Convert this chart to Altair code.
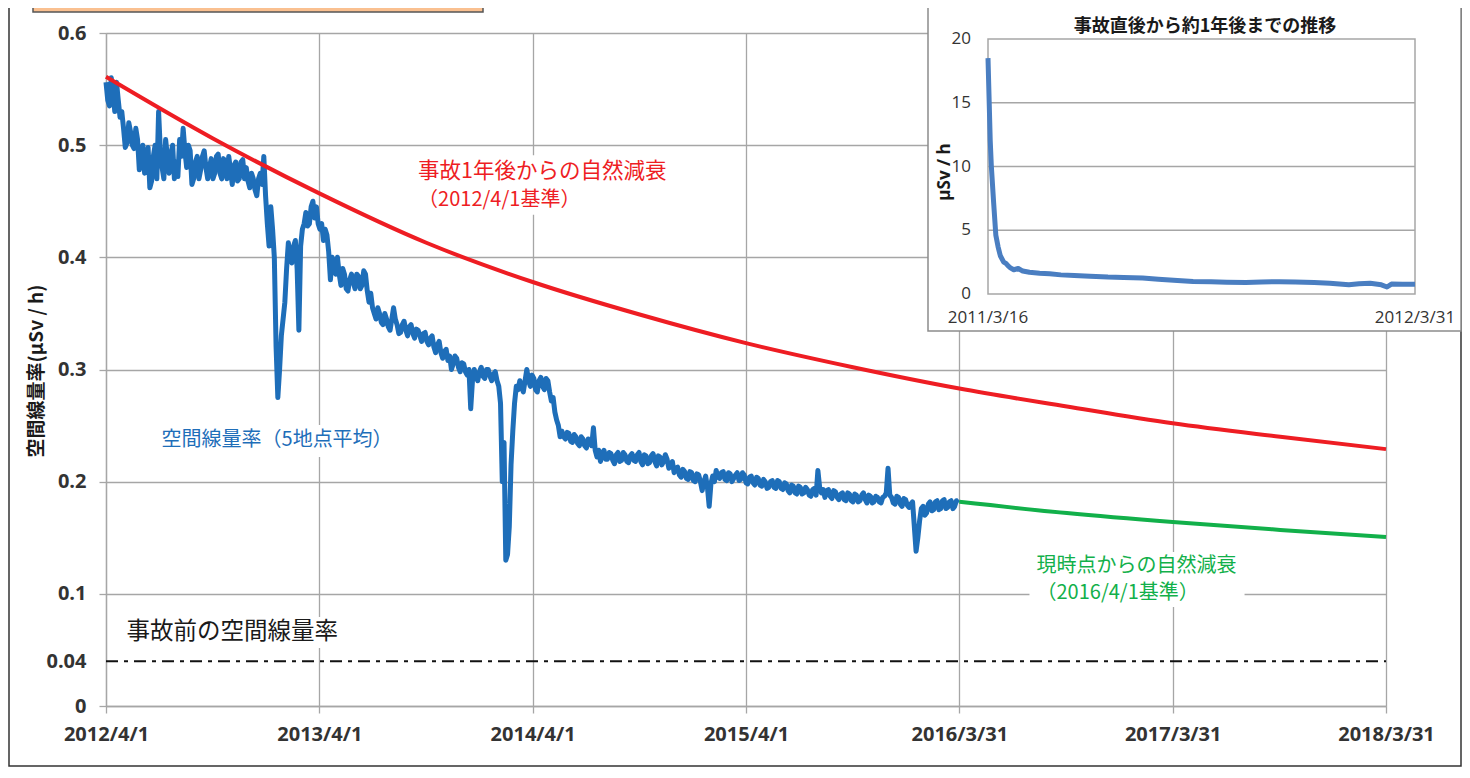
import altair as alt
import pandas as pd

# ---------------- data ----------------
# 5-point average dose rate, read every 6 days from 2012/4/1 ...
blue_start = "2012-04-01"
blue_step_days = 6
blue_values = [
    0.556, 0.535, 0.548, 0.556, 0.525, 0.515, 0.502, 0.512, 0.497, 0.505,
    0.490, 0.475, 0.498, 0.468, 0.500, 0.530, 0.480, 0.505, 0.475, 0.500,
    0.485, 0.505, 0.515, 0.480, 0.495, 0.470, 0.490, 0.478, 0.495, 0.470,
    0.488, 0.475, 0.492, 0.470, 0.485, 0.490, 0.465, 0.485, 0.470, 0.487,
    0.480, 0.462, 0.470, 0.455, 0.475, 0.490, 0.430, 0.445, 0.400, 0.275,
    0.330, 0.360, 0.413, 0.395, 0.415, 0.335, 0.425, 0.440, 0.430, 0.450,
    0.445, 0.425, 0.415, 0.420, 0.380, 0.395, 0.400, 0.375, 0.385, 0.370,
    0.385, 0.372, 0.383, 0.375, 0.385, 0.360, 0.355, 0.345, 0.350, 0.340,
    0.345, 0.335, 0.355, 0.340, 0.333, 0.343, 0.330, 0.340, 0.328, 0.335,
    0.325, 0.333, 0.322, 0.330, 0.315, 0.325, 0.310, 0.318, 0.312, 0.305,
    0.310, 0.298, 0.305, 0.295, 0.265, 0.300, 0.290, 0.302, 0.292, 0.300,
    0.290, 0.298, 0.285, 0.200, 0.130, 0.160, 0.245, 0.285, 0.290, 0.280,
    0.300, 0.285, 0.292, 0.280, 0.293, 0.282, 0.290, 0.272, 0.262, 0.250,
    0.245, 0.238, 0.243, 0.235, 0.240, 0.232, 0.238, 0.230, 0.236, 0.248,
    0.222, 0.218, 0.228, 0.220, 0.225, 0.216, 0.226, 0.219, 0.224, 0.217,
    0.225, 0.218, 0.226, 0.215, 0.223, 0.217, 0.225, 0.214, 0.222, 0.218,
    0.220, 0.214, 0.208, 0.213, 0.204, 0.209, 0.202, 0.208, 0.200, 0.206,
    0.192, 0.205, 0.178, 0.205, 0.210, 0.203, 0.209, 0.201, 0.207, 0.203,
    0.208, 0.202, 0.206, 0.198, 0.205, 0.197, 0.203, 0.196, 0.200, 0.195,
    0.201, 0.194, 0.200, 0.193, 0.198, 0.190, 0.196, 0.189, 0.195, 0.190,
    0.193, 0.187, 0.194, 0.210, 0.190, 0.186, 0.193, 0.185, 0.191, 0.184,
    0.190, 0.183, 0.189, 0.182, 0.188, 0.183, 0.190, 0.181, 0.187, 0.182,
    0.186, 0.181, 0.187, 0.212, 0.186, 0.180, 0.186, 0.178, 0.184, 0.177,
    0.182, 0.138, 0.165, 0.178, 0.172, 0.182, 0.175, 0.183, 0.176, 0.184,
    0.177, 0.183, 0.178, 0.181,
]
# ... and the readings 3 days after each of those (the day-to-day scatter)
blue_mid_values = [
    0.540, 0.560, 0.530, 0.540, 0.530, 0.498, 0.520, 0.500, 0.515, 0.478,
    0.500, 0.488, 0.462, 0.490, 0.470, 0.495, 0.470, 0.490, 0.492, 0.470,
    0.472, 0.490, 0.495, 0.500, 0.465, 0.485, 0.470, 0.490, 0.480, 0.480,
    0.470, 0.490, 0.475, 0.488, 0.470, 0.478, 0.482, 0.468, 0.485, 0.470,
    0.468, 0.475, 0.460, 0.470, 0.465, 0.455, 0.410, 0.425, 0.320, 0.300,
    0.345, 0.390, 0.400, 0.410, 0.390, 0.410, 0.430, 0.428, 0.445, 0.435,
    0.430, 0.430, 0.425, 0.405, 0.400, 0.385, 0.385, 0.390, 0.372, 0.380,
    0.378, 0.385, 0.372, 0.388, 0.370, 0.368, 0.350, 0.355, 0.342, 0.350,
    0.338, 0.345, 0.345, 0.332, 0.340, 0.335, 0.338, 0.332, 0.336, 0.330,
    0.332, 0.325, 0.328, 0.320, 0.322, 0.315, 0.316, 0.308, 0.300, 0.312,
    0.302, 0.306, 0.298, 0.300, 0.290, 0.294, 0.298, 0.294, 0.300, 0.294,
    0.296, 0.290, 0.270, 0.235, 0.135, 0.215, 0.270, 0.282, 0.284, 0.290,
    0.290, 0.295, 0.282, 0.290, 0.285, 0.292, 0.280, 0.275, 0.255, 0.240,
    0.240, 0.244, 0.236, 0.242, 0.234, 0.240, 0.232, 0.238, 0.232, 0.228,
    0.228, 0.224, 0.220, 0.226, 0.219, 0.224, 0.218, 0.226, 0.218, 0.223,
    0.219, 0.224, 0.218, 0.224, 0.216, 0.223, 0.218, 0.223, 0.215, 0.224,
    0.212, 0.218, 0.212, 0.206, 0.211, 0.203, 0.209, 0.201, 0.207, 0.200,
    0.200, 0.195, 0.198, 0.200, 0.204, 0.208, 0.202, 0.208, 0.200, 0.206,
    0.201, 0.208, 0.199, 0.204, 0.199, 0.204, 0.197, 0.202, 0.194, 0.200,
    0.195, 0.201, 0.194, 0.199, 0.192, 0.197, 0.190, 0.196, 0.189, 0.195,
    0.188, 0.193, 0.188, 0.195, 0.193, 0.192, 0.187, 0.192, 0.186, 0.189,
    0.184, 0.190, 0.183, 0.189, 0.182, 0.188, 0.184, 0.188, 0.181, 0.187,
    0.182, 0.186, 0.190, 0.188, 0.181, 0.187, 0.180, 0.185, 0.179, 0.180,
    0.160, 0.150, 0.176, 0.170, 0.180, 0.174, 0.182, 0.175, 0.183, 0.176,
    0.182, 0.176, 0.183,
]

# natural decay from 2012/4/1
red_dates = ["2012-04-01", "2012-10-01", "2013-04-01", "2013-10-01", "2014-04-01",
             "2014-10-01", "2015-04-01", "2015-10-01", "2016-03-31", "2016-10-01",
             "2017-03-31", "2017-10-01", "2018-03-31"]
red_values = [0.561, 0.506, 0.457, 0.413, 0.378, 0.349, 0.3235, 0.302, 0.283,
              0.267, 0.252, 0.240, 0.229]

# natural decay from 2016/4/1
green_dates = ["2016-03-31", "2016-10-01", "2017-03-31", "2017-10-01", "2018-03-31"]
green_values = [0.182, 0.172, 0.164, 0.157, 0.1506]

# pre-accident level
pre_value = 0.04
pre_dates = ["2012-04-01", "2018-03-31"]

x_tick_dates = [(2012, 4, 1), (2013, 4, 1), (2014, 4, 1), (2015, 4, 1),
                (2016, 3, 31), (2017, 3, 31), (2018, 3, 31)]
y_tick_values = [0, 0.04, 0.1, 0.2, 0.3, 0.4, 0.5, 0.6]

# inset: first year after the accident
inset_dates = ["2011-03-16", "2011-03-18", "2011-03-19", "2011-03-21", "2011-03-23",
               "2011-03-25", "2011-03-27", "2011-03-30", "2011-04-01", "2011-04-03",
               "2011-04-05", "2011-04-08", "2011-04-12", "2011-04-16", "2011-04-22",
               "2011-05-01", "2011-05-10", "2011-05-20", "2011-06-01", "2011-06-15",
               "2011-07-01", "2011-07-15", "2011-08-01", "2011-08-15", "2011-09-01",
               "2011-09-15", "2011-10-01", "2011-10-15", "2011-11-01", "2011-11-15",
               "2011-12-01", "2011-12-15", "2012-01-01", "2012-01-15", "2012-02-01",
               "2012-02-10", "2012-02-20", "2012-03-01", "2012-03-06", "2012-03-10",
               "2012-03-20", "2012-03-31"]
inset_values = [18.5, 12.0, 10.0, 7.2, 4.6, 3.7, 3.0, 2.5, 2.4, 2.2,
                2.05, 1.9, 2.0, 1.8, 1.7, 1.62, 1.58, 1.5, 1.45, 1.4,
                1.33, 1.3, 1.25, 1.15, 1.05, 0.98, 0.96, 0.93, 0.9, 0.95,
                0.97, 0.94, 0.9, 0.85, 0.72, 0.8, 0.84, 0.72, 0.55, 0.78,
                0.77, 0.76]
inset_y_ticks = [0, 5, 10, 15, 20]
inset_x_labels = ["2011-03-16", "2012-03-31"]
inset_x_label_text = ["2011/3/16", "2012/3/31"]
inset_grid_values = [5, 10, 15]

# annotation texts
ann_text = ["事故1年後からの自然減衰", "（2012/4/1基準）", "空間線量率（5地点平均）",
            "事故前の空間線量率", "現時点からの自然減衰", "（2016/4/1基準）"]
ann_color = ["#EE1D23", "#EE1D23", "#1E6EB9", "#1A1A1A", "#12B04A", "#12B04A"]
ann_size = [21.5, 20, 20, 23.5, 20, 20]
ann_date = ["2013-09-17", "2013-09-17", "2012-07-05", "2012-05-06", "2016-08-10", "2016-08-10"]
ann_val = [0.476, 0.451, 0.237, 0.066, 0.1248, 0.1007]

# white boxes behind the annotations
mask_date = ["2013-09-02", "2012-06-23", "2012-04-25", "2016-07-29"]
mask_date2 = ["2014-11-30", "2013-07-31", "2013-06-20", "2017-08-01"]
mask_val = [0.491, 0.2505, 0.0793, 0.1373]
mask_val2 = [0.438, 0.222, 0.0517, 0.0883]

# ---------------- styles ----------------
GRID = "#A6A6A6"
LABEL = "#333333"
NUM_FONT = "Open Sans"
JP_FONT = "Noto Sans CJK JP"

W, H = 1280, 673
PAD = {"left": 98, "top": 25, "right": 76, "bottom": 62}

start = pd.Timestamp(blue_start)
blue_df = pd.concat([
    pd.DataFrame({"date": pd.date_range(start, periods=len(blue_values),
                                        freq=f"{blue_step_days}D"),
                  "val": blue_values}),
    pd.DataFrame({"date": pd.date_range(start + pd.Timedelta(days=blue_step_days // 2),
                                        periods=len(blue_mid_values),
                                        freq=f"{blue_step_days}D"),
                  "val": blue_mid_values}),
]).sort_values("date").reset_index(drop=True)

red_df = pd.DataFrame({"date": pd.to_datetime(red_dates), "val": red_values})
green_df = pd.DataFrame({"date": pd.to_datetime(green_dates), "val": green_values})
pre_df = pd.DataFrame({"date": [pd.to_datetime(pre_dates[0])],
                       "date2": [pd.to_datetime(pre_dates[1])], "val": [pre_value]})
ann_df = pd.DataFrame({"date": pd.to_datetime(ann_date), "val": ann_val,
                       "text": ann_text, "color": ann_color, "size": ann_size})
mask_df = pd.DataFrame({"date": pd.to_datetime(mask_date), "date2": pd.to_datetime(mask_date2),
                        "val": mask_val, "val2": mask_val2})
one = pd.DataFrame({"a": [0]})

x_scale = alt.Scale(domain=[alt.DateTime(year=2012, month=4, date=1),
                            alt.DateTime(year=2018, month=3, date=31)])
y_scale = alt.Scale(domain=[0, 0.6])

hide004 = {"condition": {"test": "datum.value == 0.04", "value": 0}, "value": 1}

x_axis = alt.Axis(
    values=[alt.DateTime(year=y, month=m, date=d) for (y, m, d) in x_tick_dates],
    labelExpr="timeFormat(datum.value, '%Y/%-m/%-d')",
    title=None, grid=True, gridColor=GRID, gridWidth=1.3,
    domainColor=GRID, domainWidth=1.3, tickColor=GRID, tickWidth=1.3, tickSize=7,
    labelFont=NUM_FONT, labelFontWeight="bold", labelFontSize=20, labelColor=LABEL,
    labelPadding=11, labelFlush=False, labelOverlap=False,
)
y_axis = alt.Axis(
    values=y_tick_values, format=".2~f",
    title=None, grid=True, gridColor=GRID, gridWidth=1.3, gridOpacity=hide004,
    domainColor=GRID, domainWidth=1.3, tickColor=GRID, tickWidth=1.3, tickSize=7,
    tickOpacity=hide004,
    labelFont=NUM_FONT, labelFontWeight="bold", labelFontSize=20, labelColor=LABEL,
    labelPadding=13, labelOverlap=False,
)

X = alt.X("date:T", scale=x_scale, axis=x_axis)
Y = alt.Y("val:Q", scale=y_scale, axis=y_axis)

masks = alt.Chart(mask_df).mark_rect(color="white").encode(
    x=X, x2="date2:T", y=Y, y2="val2:Q")

blue = alt.Chart(blue_df).mark_line(color="#1E6EB9", strokeWidth=5,
                                    strokeJoin="round").encode(x=X, y=Y)
red = alt.Chart(red_df).mark_line(color="#EE1D23", strokeWidth=4,
                                  interpolate="monotone").encode(x=X, y=Y)
green = alt.Chart(green_df).mark_line(color="#12B04A", strokeWidth=4,
                                      interpolate="monotone").encode(x=X, y=Y)
pre = alt.Chart(pre_df).mark_rule(color="#111111", strokeWidth=2,
                                  strokeDash=[12, 6, 4, 6]).encode(x=X, x2="date2:T", y=Y)

ann = alt.Chart(ann_df).mark_text(font=JP_FONT, align="left",
                                  baseline="middle").encode(
    x=X, y=Y, text="text:N", color=alt.Color("color:N", scale=None),
    size=alt.Size("size:Q", scale=None))

ytitle = alt.Chart(one).mark_text(font=JP_FONT, fontSize=19, fontWeight="bold",
                                  angle=270, color="#1A1A1A", align="center",
                                  baseline="middle").encode(
    x=alt.value(-69), y=alt.value(338), text=alt.value("空間線量率(μSv / h)"))

frame = alt.Chart(one).mark_rect(fillOpacity=0, stroke="#333333", strokeWidth=1.5).encode(
    x=alt.value(-97), x2=alt.value(1355), y=alt.value(-40), y2=alt.value(733))
orange = alt.Chart(one).mark_rect(fill="#FAC090", stroke="#555555", strokeWidth=1.5).encode(
    x=alt.value(-73), x2=alt.value(377), y=alt.value(-40), y2=alt.value(-21))

main = alt.layer(masks, blue, red, green, pre, ann, ytitle, frame, orange)

# ---------------- inset ----------------
inset_df = pd.DataFrame({"idate": pd.to_datetime(inset_dates), "ival": inset_values})
ix_scale = alt.Scale(domain=[alt.DateTime(year=2011, month=3, date=16),
                             alt.DateTime(year=2012, month=3, date=31)], range=[882, 1309])
iy_scale = alt.Scale(domain=[0, 20], range=[261, 6])
IX = alt.X("idate:T", scale=ix_scale, axis=None)
IY = alt.Y("ival:Q", scale=iy_scale, axis=None)

inset_bg = alt.Chart(one).mark_rect(fill="white", stroke="#8C8C8C", strokeWidth=1.5).encode(
    x=alt.value(822), x2=alt.value(1355), y=alt.value(-40), y2=alt.value(298))

iframe_df = pd.DataFrame({"idate": pd.to_datetime([inset_x_labels[0]]),
                          "idate2": pd.to_datetime([inset_x_labels[1]]),
                          "ival": [inset_y_ticks[0]], "ival2": [inset_y_ticks[-1]]})
iframe = alt.Chart(iframe_df).mark_rect(fillOpacity=0, stroke=GRID, strokeWidth=1.5).encode(
    x=IX, x2="idate2:T", y=IY, y2="ival2:Q")

igrid_df = pd.DataFrame({"idate": pd.to_datetime([inset_x_labels[0]] * len(inset_grid_values)),
                         "idate2": pd.to_datetime([inset_x_labels[1]] * len(inset_grid_values)),
                         "ival": inset_grid_values})
igrid = alt.Chart(igrid_df).mark_rule(color=GRID, strokeWidth=1.5).encode(
    x=IX, x2="idate2:T", y=IY)

iline = alt.Chart(inset_df).mark_line(color="#4A7EC1", strokeWidth=5,
                                      strokeJoin="round").encode(x=IX, y=IY)

iylab = alt.Chart(pd.DataFrame({"ival": inset_y_ticks,
                                "lab": [str(v) for v in inset_y_ticks]})).mark_text(
    font=NUM_FONT, fontSize=17, color=LABEL, align="right", baseline="middle").encode(
    x=alt.value(865), y=IY, text="lab:N")

ixlab = alt.Chart(pd.DataFrame({"idate": pd.to_datetime(inset_x_labels),
                                "lab": inset_x_label_text})).mark_text(
    font=NUM_FONT, fontSize=17, color=LABEL, align="center", baseline="middle").encode(
    x=IX, y=alt.value(285), text="lab:N")

ititle = alt.Chart(one).mark_text(font=JP_FONT, fontSize=18, fontWeight="bold",
                                  color="#1A1A1A", align="center", baseline="middle").encode(
    x=alt.value(1099), y=alt.value(-6), text=alt.value("事故直後から約1年後までの推移"))

iytitle = alt.Chart(one).mark_text(font=NUM_FONT, fontSize=17, fontWeight="bold",
                                   color="#1A1A1A", angle=270, align="center",
                                   baseline="middle").encode(
    x=alt.value(839), y=alt.value(139), text=alt.value("μSv / h"))

inset = alt.layer(inset_bg, igrid, iframe, iline, iylab, ixlab, ititle, iytitle)

chart = alt.layer(main, inset).resolve_scale(x="independent", y="independent").properties(
    width=W, height=H, padding=PAD, autosize=alt.AutoSizeParams(type="none"),
).configure_view(stroke="transparent")

chart.save("out.html", embed_options={"renderer": "svg", "actions": False})
